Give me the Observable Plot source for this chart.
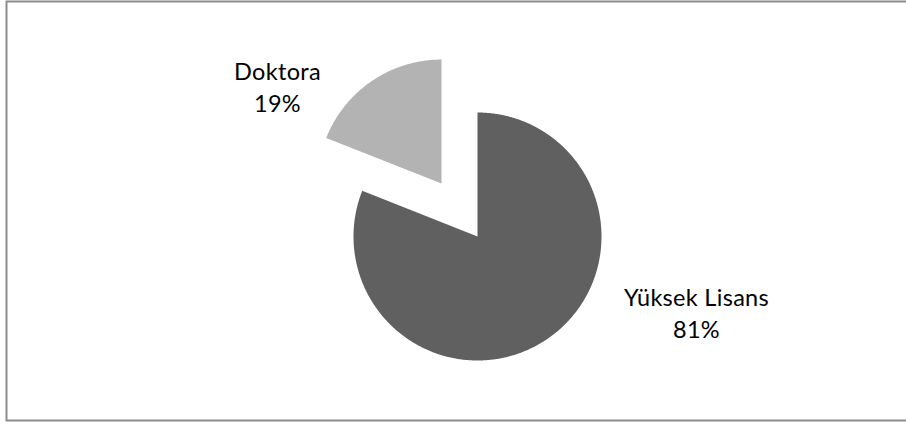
<!DOCTYPE html>
<html>
<head>
<meta charset="utf-8">
<script src="https://cdn.jsdelivr.net/npm/d3@7"></script>
<script src="https://cdn.jsdelivr.net/npm/@observablehq/plot@0.6"></script>
<style>
  html, body { margin: 0; padding: 0; background: #fff; }
  svg { display: block; }
</style>
</head>
<body>
<div id="chart"></div>
<script>
// Data
const categories = ["Yüksek Lisans", "Doktora"];
const values = [81, 19];
const percentLabels = ["81%", "19%"];
const colors = ["#606060", "#b3b3b3"];

// Layout (pixels)
const W = 906, H = 424;
const center = {x: 477, y: 236};
const radius = 124;
const explode = [0, 64];
const labelPos = [{x: 696, y: 311}, {x: 277, y: 85}];

const pie = d3.pie().sort(null).value(d => d.value)(
  categories.map((c, i) => ({category: c, value: values[i], color: colors[i], explode: explode[i]}))
);

// Build slice outlines from the pie angles
const slicePts = [];
pie.forEach((s, i) => {
  const mid = (s.startAngle + s.endAngle) / 2;
  const cx = center.x + s.data.explode * Math.sin(mid);
  const cy = center.y - s.data.explode * Math.cos(mid);
  slicePts.push({k: s.data.category, x: cx, y: cy, color: s.data.color});
  const n = Math.max(2, Math.ceil((s.endAngle - s.startAngle) / 0.01));
  for (let j = 0; j <= n; j++) {
    const a = s.startAngle + (s.endAngle - s.startAngle) * j / n;
    slicePts.push({k: s.data.category, x: cx + radius * Math.sin(a), y: cy - radius * Math.cos(a), color: s.data.color});
  }
});

const labels = categories.map((c, i) => ({
  text: c + "\n" + percentLabels[i], x: labelPos[i].x, y: labelPos[i].y
}));

const chart = Plot.plot({
  width: W, height: H,
  margin: 0,
  x: {domain: [0, W], range: [0, W], axis: null},
  y: {domain: [0, H], range: [0, H], axis: null},
  marks: [
    Plot.frame({stroke: "#8c8c8c", strokeWidth: 2, insetLeft: 6, insetTop: 1, insetBottom: 4, insetRight: -4}),
    ...categories.map(c => Plot.line(slicePts.filter(d => d.k === c), {
      x: "x", y: "y", fill: slicePts.find(d => d.k === c).color, stroke: "none", curve: "linear-closed"
    })),
    Plot.text(labels, {
      x: "x", y: "y", text: "text", fontSize: 23.5, lineHeight: 1.36, fill: "#000",
      fontFamily: "Lato", textAnchor: "middle", lineAnchor: "middle"
    })
  ],
  style: {fontFamily: "Lato", background: "#fff", letterSpacing: "0.3px"}
});
document.getElementById("chart").appendChild(chart);
</script>
</body>
</html>
